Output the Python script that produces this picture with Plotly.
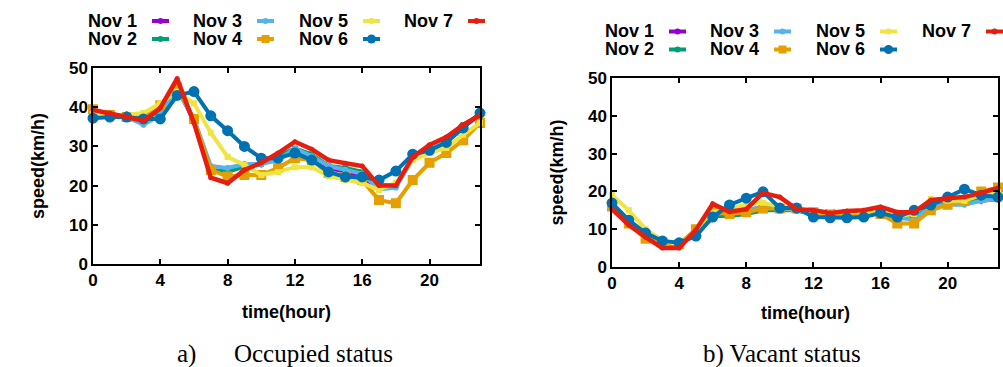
import plotly.graph_objects as go

hours = list(range(24))
series_names = ["Nov 1", "Nov 2", "Nov 3", "Nov 4", "Nov 5", "Nov 6", "Nov 7"]
colors = ["#9400D3", "#009E73", "#56B4E9", "#E69F00", "#F0E442", "#0072B2", "#E51E10"]
symbols = ["cross-thin", "x-thin", "asterisk", "square", "square", "circle", "circle"]
msizes = [5, 5, 5, 8, 4, 9, 3]

occ_nov1 = [38.5, 38, 38, 37, 39, 45, 36.5, 24, 23.5, 25, 25.5, 27, 29, 27.5, 24.5, 23.5, 22, 19.5, 20, 27, 29.5, 31.5, 35, 38]
occ_nov2 = [38, 38, 38, 37, 39, 45.5, 36.5, 24, 23.5, 25, 25.5, 27.5, 29.5, 28, 25, 24.5, 23.5, 20, 20, 27, 30, 32, 35.5, 38]
occ_nov3 = [38, 37.5, 37.5, 35.5, 38, 44.5, 37, 25, 24.5, 25.5, 25.5, 26.5, 29.5, 27.5, 25, 24, 23, 19, 19.5, 27, 30, 32, 35, 38]
occ_nov4 = [39.5, 38, 37.5, 37.5, 40.5, 45, 37, 24, 22.3, 22.7, 22.7, 24.5, 27, 26.5, 23.2, 22.2, 21.4, 16.3, 15.5, 21.4, 25.8, 28.3, 31.6, 36]
occ_nov5 = [38.5, 38, 38, 38.5, 41, 44, 41, 33.5, 27.3, 25.3, 22.7, 23.5, 24.7, 24.7, 22.4, 21.4, 20.6, 18.9, 20.7, 26.5, 28.3, 29.6, 33, 36]
occ_nov6 = [37.2, 37.5, 37.5, 37, 37, 43, 44, 37.8, 34, 30, 27, 27, 28.3, 26.5, 23.5, 22.2, 22.2, 21.4, 23.7, 28, 29, 31, 34.7, 38.5]
occ_nov7 = [39.3, 38.5, 37.5, 36.5, 39.8, 47.3, 36, 22, 20.6, 24, 25.8, 28.3, 31.2, 29.3, 26.5, 25.7, 25, 20, 20, 27.3, 30.4, 32.4, 35.5, 38]

vac_nov1 = [16, 11.5, 8, 6.5, 6, 9.5, 13.5, 14, 14.5, 15.5, 15.5, 15, 14, 14, 14, 14, 14.5, 13, 13, 16, 16.5, 17, 17.5, 18]
vac_nov2 = [16, 11.5, 8, 6.5, 6, 9.5, 13.5, 13.5, 14, 15, 15, 15, 14, 14, 14, 14, 14.5, 13, 13, 16, 17, 17, 18, 18.5]
vac_nov3 = [16, 12, 8, 6.5, 6, 9.5, 14, 14.5, 15, 16, 15.5, 15, 14, 14, 14, 14, 14.5, 13, 12.5, 16, 16.5, 16.5, 17.5, 18]
vac_nov4 = [16, 11.5, 7.5, 6.5, 6, 10, 14.5, 14, 14.5, 15.5, 15.5, 15.5, 14.5, 14, 14, 14, 14, 11.5, 11.5, 15, 16.5, 17.5, 20, 21]
vac_nov5 = [19, 15, 10, 7, 6, 9, 14.5, 15.5, 16.5, 17, 16, 15.5, 14.5, 14.5, 14.5, 14.5, 14.5, 13.5, 14, 18, 17.5, 17.5, 19, 20]
vac_nov6 = [16.9, 12.4, 9, 6.9, 6.4, 8.2, 13.2, 16.4, 18.2, 19.9, 15.6, 15.6, 13.2, 13, 13, 13.2, 14.3, 13.2, 15, 16.4, 18.5, 20.6, 19, 18.5]
vac_nov7 = [15.3, 11.1, 7.9, 5, 5, 9.8, 16.7, 14.6, 15.3, 19.6, 18.5, 15.3, 15, 14.3, 14.8, 15, 15.9, 14.5, 14.5, 17.7, 18.2, 18.5, 19.6, 20.9]

occupied = [occ_nov1, occ_nov2, occ_nov3, occ_nov4, occ_nov5, occ_nov6, occ_nov7]
vacant = [vac_nov1, vac_nov2, vac_nov3, vac_nov4, vac_nov5, vac_nov6, vac_nov7]

x_ticks = [0, 4, 8, 12, 16, 20]
y_ticks = [0, 10, 20, 30, 40, 50]
x_title = "time(hour)"
y_title = "speed(km/h)"
captions = ["a)&nbsp;&nbsp;&nbsp;&nbsp;&nbsp;&nbsp;Occupied status", "b) Vacant status"]

W, H = 1003, 367
BOLD = "Liberation Sans, Arial"

fig = go.Figure()

for i, name in enumerate(series_names):
    lw = 4.5 if i == 6 else 4
    for data, xa, ya in ((occupied[i], "x", "y"), (vacant[i], "x2", "y2")):
        fig.add_trace(go.Scatter(x=hours, y=data, mode="lines+markers", name=name,
                                 line=dict(color=colors[i], width=lw),
                                 marker=dict(symbol=symbols[i], size=msizes[i], color=colors[i],
                                             line=dict(color=colors[i], width=2)),
                                 cliponaxis=False, showlegend=False, xaxis=xa, yaxis=ya))

axis_common = dict(showline=True, linecolor="black", linewidth=1.5, mirror="ticks",
                   ticks="inside", ticklen=5, tickwidth=1.5, tickcolor="black",
                   showgrid=False, zeroline=False, automargin=False,
                   tickfont=dict(family=BOLD, size=17, color="black", weight="bold"))

# plot frames in pixels: (left, right, top, bottom)
frames = [(93, 480, 68, 264), (612, 998, 78, 267)]

fig.update_layout(
    width=W, height=H, margin=dict(l=0, r=0, t=0, b=0, autoexpand=False),
    paper_bgcolor="white", plot_bgcolor="white", showlegend=False,
    xaxis=dict(domain=[frames[0][0] / W, frames[0][1] / W], range=[0, 23], tickvals=x_ticks, anchor="y", **axis_common),
    yaxis=dict(domain=[1 - frames[0][3] / H, 1 - frames[0][2] / H], range=[0, 50], tickvals=y_ticks, anchor="x", **axis_common),
    xaxis2=dict(domain=[frames[1][0] / W, frames[1][1] / W], range=[0, 23], tickvals=x_ticks, anchor="y2", **axis_common),
    yaxis2=dict(domain=[1 - frames[1][3] / H, 1 - frames[1][2] / H], range=[0, 50], tickvals=y_ticks, anchor="x2", **axis_common),
)

title_font = dict(family=BOLD, size=18, color="black", weight="bold")
# axis titles as annotations
for (l, r, t, b), xt_y, yt_x in ((frames[0], 312, 38), (frames[1], 313, 556)):
    fig.add_annotation(x=(l + r) / 2 / W, y=1 - xt_y / H, xref="paper", yref="paper", showarrow=False,
                       xanchor="center", yanchor="middle", text=x_title, font=title_font)
    fig.add_annotation(x=yt_x / W, y=1 - (t + b) / 2 / H, xref="paper", yref="paper", showarrow=False,
                       xanchor="center", yanchor="middle", text=y_title, textangle=-90, font=title_font)

# captions
for cx, txt in ((285, captions[0]), (782, captions[1])):
    fig.add_annotation(x=cx / W, y=1 - 354 / H, xref="paper", yref="paper", showarrow=False,
                       xanchor="center", yanchor="middle", text=txt,
                       font=dict(family="Liberation Serif, Times New Roman", size=25, color="black"))

# gnuplot-style legends (text, then sample)
def add_legend(col_x, row_y):
    for i, name in enumerate(series_names):
        col, row = divmod(i, 2)
        tx = col_x[col]
        ty = row_y[row]
        fig.add_annotation(x=tx / W, y=1 - ty / H, xref="paper", yref="paper", showarrow=False,
                           xanchor="left", yanchor="middle", text=name,
                           font=dict(family=BOLD, size=18, color="black", weight="bold"))
        sx0, sx1 = tx + 66, tx + 83
        fig.add_shape(type="line", xref="paper", yref="paper",
                      x0=sx0 / W, x1=sx1 / W, y0=1 - ty / H, y1=1 - ty / H,
                      line=dict(color=colors[i], width=4))
        cx = (sx0 + sx1) / 2
        r = msizes[i] / 2 if i in (3, 5) else 3
        fig.add_shape(type="rect" if i == 3 else "circle", xref="paper", yref="paper",
                      x0=(cx - r) / W, x1=(cx + r) / W, y0=1 - (ty + r) / H, y1=1 - (ty - r) / H,
                      fillcolor=colors[i], line=dict(width=0))

add_legend([86, 191, 297, 402], [21, 39])
add_legend([603, 708, 814, 920], [31.5, 49.5])

fig.write_html("out.html")
